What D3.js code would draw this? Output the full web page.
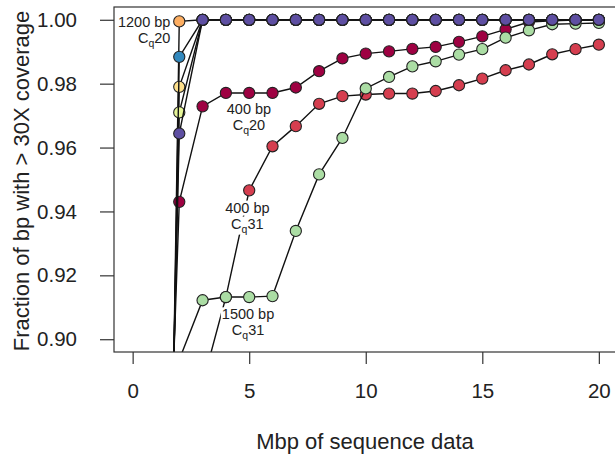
<!DOCTYPE html>
<html><head><meta charset="utf-8">
<script src="https://cdn.jsdelivr.net/npm/d3@7/dist/d3.min.js"></script>
<style>body{margin:0;background:#fff}text{font-family:"Liberation Sans",Arial,Helvetica,sans-serif}</style>
</head><body>
<svg id="chart" width="615" height="457"></svg>
<script>
// ---- data ----
const mbp = [1,2,3,4,5,6,7,8,9,10,11,12,13,14,15,16,17,18,19,20];
const seriesColors = ["#9E0142","#D53E4F","#FDAE61","#FEE08B","#E6F598","#ABDDA4","#3288BD","#5E4FA2"];
const s400Cq20   = [0.735,0.943,0.9729,0.9771,0.9771,0.9771,0.9788,0.9839,0.9879,0.9894,0.9901,0.9909,0.9915,0.9931,0.9948,0.997,0.9993,0.9997,0.9999,1.0];
const s400Cq31   = [0.80,0.85,0.886,0.9132,0.9466,0.9604,0.9667,0.9737,0.9761,0.9766,0.9769,0.9769,0.9777,0.9795,0.9816,0.9842,0.986,0.9892,0.9908,0.9922];
const s1200Cq20  = [0.55,0.9995,1,1,1,1,1,1,1,1,1,1,1,1,1,1,1,1,1,1];
const sYellow    = [0.611,0.979,1,1,1,1,1,1,1,1,1,1,1,1,1,1,1,1,1,1];
const sYelGreen  = [0.639,0.971,1,1,1,1,1,1,1,1,1,1,1,1,1,1,1,1,1,1];
const s1500Cq31  = [0.85,0.8936,0.9122,0.9132,0.9132,0.9135,0.9339,0.9516,0.963,0.9785,0.9821,0.9854,0.987,0.9891,0.9908,0.9944,0.9967,0.9986,0.9988,0.999];
const sBlue      = [0.578,0.9884,1,1,1,1,1,1,1,1,1,1,1,1,1,1,1,1,1,1];
const sPurple    = [0.661,0.9644,1,1,1,1,1,1,1,1,1,1,1,1,1,1,1,1,1,1];
const seriesValues = [s400Cq20,s400Cq31,s1200Cq20,sYellow,sYelGreen,s1500Cq31,sBlue,sPurple];
const xTicks = [0,5,10,15,20];
const yTicks = [0.90,0.92,0.94,0.96,0.98,1.00];
// annotation labels: [first line, subscript-base, subscript, rest], anchor in data units
const labelText = [["1200 bp","C","q","20"],["400 bp","C","q","20"],["400 bp","C","q","31"],["1500 bp","C","q","31"]];
const labelAt = [[1.62,0.9969,"end"],[4.99,0.9695,"middle"],[4.92,0.9387,"middle"],[4.95,0.9053,"middle"]];

// ---- layout ----
const svg = d3.select("#chart");
const box = {l:114, r:617.5, t:7, b:352};
const x = d3.scaleLinear().domain([-0.8,20.8]).range([box.l, box.r]);
const y = d3.scaleLinear().domain([0.896,1.004]).range([box.b, box.t]);

svg.append("defs").append("clipPath").attr("id","clip")
  .append("rect").attr("x",box.l).attr("y",box.t).attr("width",box.r-box.l).attr("height",box.b-box.t);

const plot = svg.append("g").attr("clip-path","url(#clip)");
const line = d3.line().x((d,i)=>x(mbp[i])).y(d=>y(d));
seriesValues.forEach((vals,k)=>{
  const g = plot.append("g");
  g.append("path").attr("d",line(vals)).attr("fill","none").attr("stroke","#111").attr("stroke-width",1.4);
  g.selectAll("circle").data(vals).join("circle")
    .attr("cx",(d,i)=>x(mbp[i])).attr("cy",d=>y(d)).attr("r",5.6)
    .attr("fill",seriesColors[k]).attr("stroke","#222").attr("stroke-width",1.1);
});

// labels with white backing
labelText.forEach((t,k)=>{
  const [lx,ly,anchor] = labelAt[k];
  const cx = x(lx), cy = y(ly);
  const g = svg.append("g").attr("transform",`translate(${cx},${cy})`);
  const bg = g.append("g");
  const t1 = g.append("text").attr("text-anchor",anchor).attr("font-size",14.5).attr("y",-3).attr("fill","#222").text(t[0]);
  const t2 = g.append("text").attr("text-anchor",anchor).attr("font-size",14.5).attr("y",13).attr("fill","#222");
  t2.append("tspan").text(t[1]);
  t2.append("tspan").attr("font-size",10.5).attr("dy",4).text(t[2]);
  t2.append("tspan").attr("dy",-4).text(t[3]);
  [t1,t2].forEach(tt=>{
    const bb = tt.node().getBBox();
    bg.append("rect").attr("x",bb.x-1).attr("y",bb.y+1).attr("width",bb.width+2).attr("height",bb.height-1).attr("fill","#fff");
  });
});

// box
svg.append("rect").attr("x",box.l).attr("y",box.t).attr("width",box.r-box.l).attr("height",box.b-box.t)
  .attr("fill","none").attr("stroke","#333").attr("stroke-width",1.2);

// axes
const ya = svg.append("g").attr("transform",`translate(${box.l},0)`)
  .call(d3.axisLeft(y).tickValues(yTicks).tickFormat(d3.format(".2f")).tickSize(14).tickPadding(23));
const xa = svg.append("g").attr("transform",`translate(0,${box.b})`)
  .call(d3.axisBottom(x).tickValues(xTicks).tickFormat(d3.format("d")).tickSize(12).tickPadding(19));
[ya,xa].forEach(a=>{
  a.select(".domain").remove();
  a.selectAll("line").attr("stroke","#333").attr("stroke-width",1.2);
  a.selectAll("text").attr("font-size",20.5).attr("fill","#222").attr("font-family","Liberation Sans, Arial, sans-serif");
});

// titles
svg.append("text").attr("x",365).attr("y",449).attr("text-anchor","middle").attr("font-size",22).attr("fill","#222")
  .text("Mbp of sequence data");
svg.append("text").attr("transform","translate(29,181) rotate(-90)").attr("text-anchor","middle").attr("font-size",22).attr("fill","#222")
  .text("Fraction of bp with > 30X coverage");
</script>
</body></html>
